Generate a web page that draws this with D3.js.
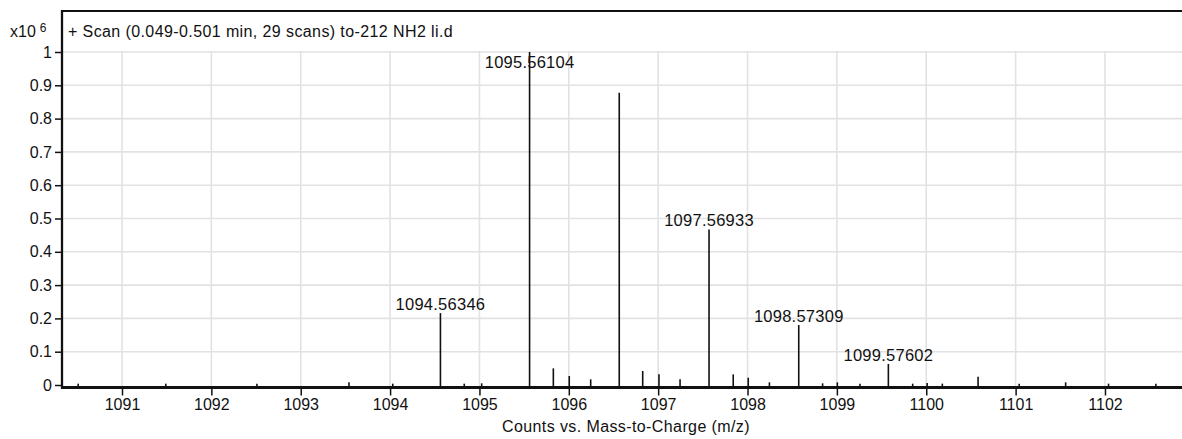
<!DOCTYPE html>
<html>
<head>
<meta charset="utf-8">
<script src="https://cdn.jsdelivr.net/npm/d3@7"></script>
<style>
  html, body { margin: 0; padding: 0; background: #fff; }
  svg { display: block; }
  text { font-family: "Liberation Sans", Arial, sans-serif; fill: #111; }
</style>
</head>
<body>
<svg id="chart" width="1182" height="439"></svg>
<script>
// Spectrum title and axis captions
const titleText = "+ Scan (0.049-0.501 min, 29 scans) to-212 NH2 li.d";
const xAxisTitle = "Counts vs. Mass-to-Charge (m/z)";

// Annotated peaks: m/z and abundance (x10^6 counts)
const labeledMz = [1094.56346, 1095.56104, 1097.56933, 1098.57309, 1099.57602];
const labeledAbund = [0.216, 1.0, 0.467, 0.18, 0.063];

// Remaining centroid peaks: m/z and abundance (x10^6 counts)
const otherMz = [1090.51, 1091.49, 1092.51, 1093.54, 1094.03, 1094.83, 1095.025,
  1095.827, 1096.005, 1096.245, 1096.5645, 1096.827, 1097.009, 1097.245,
  1097.84, 1098.008, 1098.245, 1098.84, 1099.005, 1099.258, 1099.848,
  1100.01, 1100.18, 1100.58, 1101.04, 1101.56, 1102.04, 1102.57];
const otherAbund = [0.004, 0.004, 0.004, 0.008, 0.004, 0.004, 0.005,
  0.05, 0.027, 0.017, 0.878, 0.042, 0.032, 0.017,
  0.032, 0.022, 0.008, 0.005, 0.008, 0.004, 0.004,
  0.006, 0.004, 0.025, 0.004, 0.008, 0.004, 0.004];

// Axis ticks
const xTicks = [1091, 1092, 1093, 1094, 1095, 1096, 1097, 1098, 1099, 1100, 1101, 1102];
const yTicks = [0, 0.1, 0.2, 0.3, 0.4, 0.5, 0.6, 0.7, 0.8, 0.9, 1];

const svg = d3.select("#chart");
const W = 1182;
const frameLeft = 62, frameTop = 11;
const plotTop = 52, zeroY = 385, axisY = 387.5;

const x = d3.scaleLinear().domain([1090.3286, 1102.862]).range([frameLeft, W]);
const y = d3.scaleLinear().domain([0, 1]).range([zeroY, plotTop]);

// Grid
const grid = svg.append("g").attr("stroke", "#e2e2e2").attr("stroke-width", 1.6);
grid.selectAll("line.h").data(yTicks.filter(d => d > 0)).join("line")
  .attr("x1", frameLeft).attr("x2", W)
  .attr("y1", d => y(d)).attr("y2", d => y(d));
grid.selectAll("line.v").data(xTicks).join("line")
  .attr("x1", d => x(d)).attr("x2", d => x(d))
  .attr("y1", plotTop - 1).attr("y2", axisY);

// Peaks as sticks
const peaks = labeledMz.map((m, i) => ({ mz: m, v: labeledAbund[i], label: m.toFixed(5) }))
  .concat(otherMz.map((m, i) => ({ mz: m, v: otherAbund[i] })));
svg.append("g").attr("stroke", "#111").attr("stroke-width", 1.6)
  .selectAll("line").data(peaks).join("line")
  .attr("x1", d => x(d.mz)).attr("x2", d => x(d.mz))
  .attr("y1", zeroY + 1).attr("y2", d => y(d.v));

// Peak annotations
svg.append("g").selectAll("text").data(peaks.filter(d => d.label)).join("text")
  .attr("x", d => x(d.mz))
  .attr("y", d => Math.max(y(d.v) - 3, plotTop + 16))
  .attr("text-anchor", "middle")
  .attr("font-size", 16.5)
  .attr("letter-spacing", 0.25)
  .text(d => d.label);

// Y axis
const yAxis = d3.axisLeft(y).tickValues(yTicks).tickSize(7).tickPadding(3)
  .tickFormat(d => d3.format("~g")(d));
const gy = svg.append("g").attr("transform", `translate(${frameLeft},0)`).call(yAxis);
gy.select(".domain").remove();
gy.selectAll(".tick line").attr("stroke", "#111").attr("stroke-width", 1.5);
gy.selectAll(".tick text").attr("font-size", 16).attr("font-family", null).attr("fill", "#111");

// X axis
const xAxis = d3.axisBottom(x).tickValues(xTicks).tickSize(8).tickPadding(3)
  .tickFormat(d3.format("d"));
const gx = svg.append("g").attr("transform", `translate(0,${axisY})`).call(xAxis);
gx.select(".domain").remove();
gx.selectAll(".tick line").attr("stroke", "#111").attr("stroke-width", 1.5);
gx.selectAll(".tick text").attr("font-size", 16).attr("font-family", null).attr("fill", "#111");

// Frame: top border, left axis line, bottom axis line
svg.append("line").attr("x1", frameLeft).attr("x2", W).attr("y1", frameTop).attr("y2", frameTop)
  .attr("stroke", "#111").attr("stroke-width", 2);
svg.append("line").attr("x1", frameLeft).attr("x2", frameLeft).attr("y1", frameTop - 1).attr("y2", axisY + 1.5)
  .attr("stroke", "#111").attr("stroke-width", 2.3);
svg.append("line").attr("x1", frameLeft - 1).attr("x2", W).attr("y1", axisY).attr("y2", axisY)
  .attr("stroke", "#111").attr("stroke-width", 2.8);

// Title inside the frame
svg.append("text").attr("x", 68).attr("y", 37).attr("font-size", 16)
  .attr("letter-spacing", 0.4).text(titleText);

// Scale multiplier label
const mult = svg.append("text").attr("x", 10).attr("y", 37).attr("font-size", 16);
mult.append("tspan").text("x10");
mult.append("tspan").attr("dx", 4).attr("dy", -5).attr("font-size", 12).text("6");

// X axis caption
svg.append("text").attr("x", 626).attr("y", 432).attr("text-anchor", "middle")
  .attr("font-size", 16).attr("letter-spacing", 0.4).text(xAxisTitle);
</script>
</body>
</html>
